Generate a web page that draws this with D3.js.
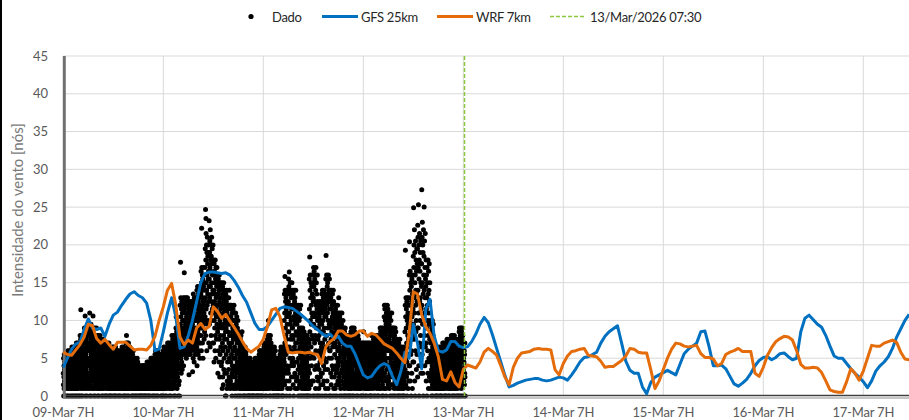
<!DOCTYPE html>
<html><head><meta charset="utf-8">
<script src="https://cdn.jsdelivr.net/npm/d3@7"></script>
<style>
body{margin:0;background:#fff}
svg{display:block}
text{font-family:Lato,"Open Sans",sans-serif}
</style>
</head><body>
<svg id="chart" width="909" height="420"></svg>
<script>
// ---------- DATA ----------
const obsStart = "2026-03-09T07:00:00Z";
const obsStepMinutes = 2;
const obsValues = [
3,1.5,5,0,2.5,4,1,5.5,2,3.5,4.5,1,3,5,2,0,4,2.5,1.5,5.5,3.5,1,4.5,2,3,5,0,1.5,4,2.5,
2.5,5,1.5,6,3.5,0,4.5,1,3,5.5,2,4,6,1.5,3.5,5,2.5,0,4.5,1,5.5,3,2,6,4,1.5,3.5,5,2.5,0,
4,2,6.5,1,5,3,5.5,1.5,0,4.5,2.5,6,3.5,1,5,2,6.5,4,3,0,1.5,5.5,2.5,4.5,6,1,3.5,5,2,0,
3,6,1.5,5,7,2.5,4,6.5,1,0,3.5,5.5,2,4.5,7,1,6,3,5,2.5,0,4,6.5,1.5,3.5,5.5,2,4.5,7,0,
5,8,2,6.5,3.5,7.5,11.4,1,4.5,6,0,8,2.5,5.5,3,7,1.5,4,6.5,0,7.5,2,5,3.5,8,1,6,4.5,2.5,7,
7,3,9,5,1.5,8,4,10.6,6,0,2,8.5,5.5,3.5,7.5,1,6.5,9,4.5,2.5,0,8,5,3,7,1.5,9,6,4,2,
6,9.5,2.5,4.5,8,1,7,3,9,5,11,0,2,6.5,8.5,4,1.5,7.5,3.5,9.5,5.5,0,2.5,8,6,4.5,1,7,3,9,
5,8.5,2,6.5,10.6,4,9,1,3,7.5,0,5.5,8,2.5,6,4.5,1.5,9,3.5,7,0,5,8,2,6.5,4,1,7.5,3,9,
7,3.5,5.5,8,1.5,4.5,6.5,2.5,0,7.5,3,5,1,6,4,8,2,0,5.5,3.5,7,1.5,4.5,6.5,2.5,8,3,5,1,6,
2,6,4,7.5,1,5,3,0,6.5,2.5,4.5,7,1.5,5.5,3.5,0,6,2,4,7.5,1,5,3,6.5,2.5,4.5,1.5,7,3.5,0,
4.5,7,1.5,3,6,5,2,0,6.5,3.5,1,5.5,4,2.5,7,0,3,5,1.5,6,4.5,2,6.5,3.5,1,5.5,2.5,4,7,0,
3.5,6,2,4.5,1,5.5,3,0,6.5,1.5,4,2.5,5,0,3.5,6,1,4.5,2,5.5,3,1.5,6.5,4,2.5,0,5,3.5,1,2,
5,2.5,6.5,1.5,4,3,5.5,0,2,6,1,4.5,3.5,0,5,2.5,6.5,1.5,4,3,5.5,2,0,6,1,4.5,3.5,2.5,5,1,
4,1.5,6,3,5,2,0,4.5,1,5.5,2.5,3.5,6,0,1.5,4,3,5,2,1,4.5,2.5,5.5,0,3.5,6,1.5,4,2,3,
2,5.5,3.5,6.5,1,4.5,2.5,6,3,5,1.5,0,4,2,6.5,3.5,1,5.5,2.5,4.5,0,3,6,1.5,5,4,2,3.5,1,0,
5,3,7,1,4.5,8,2,6,3.5,1.5,5.5,7,0,2.5,4,6.5,3,1,5,7,2,4.5,0,6,3.5,1.5,5.5,2.5,4,6.5,
4,1,6,2.5,5,3,5.5,1.5,4.5,2,6,3.5,0,1,4,2.5,5,3,1.5,5.5,0,2,4.5,3.5,6,1,2.5,4,3,0,
2,4.5,1,3.5,5,2.5,1.5,4,3,0,2,5,1,3.5,2.5,4.5,1.5,0,3,4,2,1,5,3.5,2.5,1.5,4.5,0,3,2,
3,1,4,2,3.5,1.5,2.5,0,4,1,3,2,1.5,3.5,0,2.5,1,4,2,3,1.5,0,3.5,2.5,1,2,3,0,1.5,4,
1.5,3.5,2.5,1,4,3,2,0,4,1,3.5,2,1.5,3,0,2.5,4,1,2,3.5,1.5,0,3,2.5,1,4,2,3,1.5,0,
4,2,3,4.5,1,2.5,3.5,1.5,4,0,2,3,4.5,1,2.5,3.5,0,1.5,4,2,3,1,4.5,2.5,0,3.5,1.5,2,4,3,
3,5,1.5,4,2.5,5,1,3.5,2,4.5,0,3,1.5,5,2.5,4,1,3.5,2,4.5,0,3,5,1.5,2.5,4,1,3.5,2,0,
5.5,2,4.5,1,6,3,5,2.5,4,1.5,6,3.5,0,2,5,4.5,1,3,5.5,2.5,4,0,6,1.5,3.5,5,2,4.5,3,1,
4.5,1.5,5.5,3,2,5,1,4,2.5,5.5,3.5,1,0,4.5,2,3,5,1.5,4,2.5,0,3.5,5.5,1,3,4.5,2,5,1.5,0,
6,3,1.5,5,6.5,2.5,4.5,1,5.5,3.5,2,6,4,0,1.5,5,3,6.5,2.5,4.5,1,5.5,3.5,0,2,6,4,1.5,5,3,
4,7,2,5.5,3,6.5,1.5,5,2.5,7,4.5,1,6,3.5,0,5.5,2,4,6.5,3,1.5,7,5,2.5,4.5,0,6,3.5,1,5,
6,1.5,8,3.5,7,4.5,2.5,5.5,7.5,1,6.5,3,5,8,2,4,6,0,7,3.5,5.5,1.5,7.5,4.5,2.5,6.5,0,5,3,8,
5.5,9,2,10.5,4,7,8.5,3,6,1,7.5,4.5,9,2.5,6.5,5,0,8,3.5,9.5,6,1.5,7,4,8.5,2,5.5,0,7.5,9,
6,12,4,9.5,17.7,7,13,5,10.5,3,8,11.5,4.5,12.5,6.5,9,3.5,11,7.5,10,5.5,12,8.5,13,6,10,4,11.5,7,9,
9,16.3,6,11.5,8,13,5.5,10,12.5,7,9.5,12,6.5,11,8.5,13,5,10.5,7.5,12,9,6,11,8,13,7,10,12.5,5.5,9.5,
7,11,6,12,8.5,2.8,11.5,9.5,8,12.5,6.5,10,7.5,11,9,5.5,12,10.5,8,6,11.5,9,7,12.5,10,6.5,8.5,11,7.5,10,
9.5,3.2,12.5,7,10.5,5,13.5,8,11,6.5,12,9,4.5,13,7.5,10,11.5,6,8.5,12,10,5.5,13,8,11.5,7,9,12.5,6,10.5,
12,6.5,14,4,10,13,7.5,14.5,10.5,8.5,12.5,5.5,11,13.5,9,6,14,11.5,7,9.5,13,8,12,5,10.5,14.5,7,11,9,13.5,
13.5,8,16.5,10,6,15,22.2,17,9,14,11.5,16,7,12.5,15.5,10.5,5,13,17,12,14.5,9.5,16,11,7.5,15,12.5,8.5,14,10,
17,10.5,19.5,13,24.7,8,18,23.5,21.5,11.5,15,20,14,6,19,16,12,21,9.5,17.5,13.5,18.5,10,15.5,20,12.5,16.5,7,19,14.5,
23.2,15.5,9.5,19,13,20.5,17,6.5,22,14.5,18,11,16.5,20,8,18.5,12.5,15,21,10,17.5,13.5,19.5,11.5,16,7,18,14,20,12,
18,11,7,16,14,4.5,17.5,10,16.5,12.5,9,15,6,13.5,18,8,15.5,11.5,5,17,13,10.5,16,7.5,14.5,12,17,9.5,15,11,
15,8.5,16,3,12,10.5,15.5,6,13.5,9,14,4.5,11,16,7.5,12.5,2.5,14.5,10,5.5,13,8,15,11.5,6.5,14,9.5,12,4,10.5,
12,4.5,15,9,1,13,7,14.5,2.5,10.5,6,13.5,1.5,11,8,15,3.5,12.5,5,9.5,14,7.5,11.5,3,13,6.5,10,0,8.5,12,
13.5,0,9,5.5,12.5,3,14,7.5,1,11,2,10,13,4.5,8.5,12,6,1.5,11.5,9.5,3.5,13,7,10.5,2.5,14,5,8,12,6.5,
6.5,12,1,9.5,2,11.5,4.5,10.5,8,1.5,12,5.5,7,10,3,0,11,4,8.5,2.5,9,6,11.5,3.5,7.5,1,10,5,8,12,
8.5,11,3.5,6.5,1.5,10,5,0,9,2.5,7.5,11,4,6,1,9.5,3,8,5.5,10.5,2,7,4.5,0,9,6,1.5,10,3.5,8,
7.5,4,8.5,2,6,3,0,7,1,5,8,2.5,6.5,4.5,1.5,7.5,3.5,5.5,0,8,2,6,4,1,7,3,5,8.5,2.5,6.5,
3.5,6,1,5,2.5,0,6.5,4,1.5,5.5,3,2,4.5,0,6,1,3.5,5,2.5,6.5,1.5,4,0,3,5.5,2,4.5,1,6,3,
2.5,5,1.5,3.5,4.5,1,0,3,5,2,4,1,2.5,0,3.5,4.5,1.5,5,2,3,0,4,1,2.5,3.5,5,1.5,0,4.5,2,
4,1,4.5,2,3,1.5,3.5,0,2.5,4,1,2,3,0,4.5,1.5,2.5,3.5,1,0,4,2,3,1.5,2.5,4.5,0,1,3.5,2,
1.5,5,2.5,4,1,4.5,3,2,0,5,1.5,3.5,2.5,4,1,0,3,4.5,2,5,1.5,3.5,0,2.5,4,1,3,4.5,2,0,
5.5,2,3.5,6,1,4.5,3,5,1.5,0,6,2.5,4,1,5.5,3.5,2,0,4.5,6,1.5,3,5,2.5,4,0,5.5,1,3.5,2,
4,7,1.5,5,2.5,6.5,4.5,3,6,1,5.5,3.5,7,0,2,4,6.5,1.5,5,3,7,2.5,4.5,0,6,1,3.5,5.5,2,4,
7.5,3,6,8,1.5,6.5,2.5,10,4.5,7,5,1,8,3.5,0,6,2,7.5,4,5.5,1.5,8,3,6.5,0,4.5,7,2.5,5,3.5,
4.5,6,2,3.5,5.5,1,6.5,2.5,4,0,5,1.5,3,6,2,4.5,0,5.5,1,3.5,6.5,2.5,4,1.5,5,3,0,6,2,4,
3,5,1.5,4,0,5,1,2.5,4.5,2,3.5,0,1.5,4,3,5,1,2.5,0,4.5,2,3.5,1,3,5,0,1.5,4,2.5,2,
2,5.5,3.5,1,6,4.5,2.5,6.5,1.5,5,0,3,4,2,5.5,1,6,3.5,0,4.5,2.5,5,1.5,6.5,3,4,0,2,5,3.5,
10,4.5,13.5,1.5,11,7,15.8,14,6,9,12.5,3,8,13,5.5,11.5,2,0,10.5,7.5,12,4,9.5,14,6.5,1,11,8.5,13.5,3.5,
12.5,3,15.5,8.5,14.5,10.5,2,16.4,6.5,11,0,13.5,5,9.5,15,1,12,7.5,4,14,10,6,13,2.5,11.5,8,15,4.5,9,12,
9,14,5,12,7.5,1.5,13.5,10.5,4,0,11.5,8,14,2.5,6.5,12.5,9.5,3,13,6,10,1,11,7,14,4.5,8.5,12,2,10.5,
11.5,7,9.5,2.5,12,4.5,8,1,10.5,6,11,3.5,0,8.5,5,12,7.5,2,10,4,9,1.5,11.5,6.5,3,10.5,0,8,5.5,12,
5,9,2,7,3.5,6,0,8.5,1,4.5,7.5,2.5,6.5,4,9,1.5,5.5,0,8,3,7,2,6,4.5,8.5,1,5,3.5,0,6.5,
2.5,7.5,4,1,8,3.5,6,1.5,5,0,7,2,4.5,6.5,1,3,8,0,5.5,2.5,7,1.5,4,6,0,3.5,5,2,7.5,1,
7,15.5,11.5,3,18.4,8.5,14,0,16,10,5,13,1.5,15,6.5,12,9.5,4,14.5,11,2,16,8,13.5,5.5,10.5,0,15,7.5,12.5,
13,2,17,9.5,14.5,5,16.5,11,0,7,15.5,3.5,12.5,16,8,10.5,1,14,6,17,12,4,15,9,0,13.5,7.5,11.5,2.5,16,
10,4,12.5,7.5,0,11,2,9,5.5,12,1,8,3.5,10.5,6,11.5,0,9.5,4.5,12.5,7,2.5,10,5,11,1.5,8.5,3,12,6.5,
9.5,13.5,5.5,0,11.5,3,14,7,12.5,1.5,10,6,13,8.5,4,11,2,12,9,14,5,0,10.5,7.5,13.5,3.5,11.5,6.5,1,12.5,
15.5,10.5,18.6,4.5,13,0,16,8,12,2,14.5,6.5,11,15,3.5,9,13.5,1,10,16,7,12.5,5,14,0,9.5,15.5,11.5,6,13,
12.5,6,14,0,9,3,13,10,7.5,1.5,11.5,5,14,8.5,2.5,12,4,10.5,13.5,6.5,0,9.5,11,3.5,14,7,12.5,1,8,10,
11,8,2.5,12,5.5,10.5,0,9,1,7,11.5,4,9.5,6.5,3,12,8.5,1.5,10,5,0,11,7.5,3.5,9,12,6,2,10.5,4.5,
9.5,4,11,13,6.5,1.5,10,8,2.5,5,10.5,0,7,3,9,11,5.5,1,8.5,6,10,2,4.5,9.5,0,7.5,11,3.5,6,8,
7.5,9,3,5.5,10,4,8,1.5,6.5,0,2.5,9,5,7,1,8.5,3.5,6,0,4.5,9,2,7.5,5.5,1.5,8,3,6.5,4,0,
6,1.5,8,4.5,7,2.5,5.5,3.5,7.5,1,6.5,0,4,8,2,5,3,7,1.5,6,0,4.5,7.5,2.5,5.5,1,8,3.5,6.5,0,
5,8.5,3,7,1,9,4,6,2,8,5.5,3.5,7.5,0,9,1.5,6.5,4.5,2.5,8,5,0,7,3,9,6,1,4,8.5,2,
4.5,7.5,2,8,6,1.5,5,3,7,4,0,6.5,2.5,8,3.5,1,5.5,7,2,4.5,6,0,8,3,5,1.5,7.5,4,6.5,2.5,
3.5,6.5,1,7,5,2.5,4,6,1.5,3,5.5,0,2,7,4.5,1,6,3.5,5,2.5,0,6.5,4,1.5,7,3,5.5,2,4.5,0,
7,3,8.5,1.5,5.5,4,6,2,6.5,3.5,5,1,7,2.5,4.5,0,6,3,5.5,1.5,7,4,2,6.5,0,3.5,5,1,4.5,6,
4,7,2,6,1,6.5,3,5,2.5,4.5,7,1.5,3.5,5.5,0,6,2,4,7,1,3,5,2.5,6.5,0,4.5,1.5,5.5,3.5,0,
8,3.5,6,1.5,5,8,2.5,7,4,6.5,1,3,5.5,7.5,2,4.5,0,6,8,3,5,1.5,7,4,2.5,6.5,0,5.5,3.5,7.5,
3,7.5,4.5,8,2,5.5,6.5,1,4,7,2.5,5,0,6,3.5,8,1.5,4.5,7,2,5.5,0,6.5,3,7.5,1,4,6,2.5,5,
6.5,9,2.5,7.5,4,8.5,1,5,3,9,6,2,7,4.5,0,8,3.5,5.5,1.5,9,6.5,2.5,7.5,4,0,8.5,5,3,6,1,
10.5,5.5,12,3,9,11.5,7,2,10,4.5,8,12,1,6.5,9.5,0,11,5,7.5,3.5,10.5,8.5,2.5,12,6,9,4,11.5,1.5,7,
9,11,2,6.5,10,4,9.5,7.5,1,5,10.5,3,8,0,6,11,2.5,8.5,4.5,10,7,1.5,9,5.5,3.5,11,6.5,0,8,4,
6,9,1.5,7,3.5,8.5,5,2.5,6.5,9,0,4,7.5,1,5.5,8,3,6,2,9,4.5,0,7,3.5,8.5,1.5,5,6.5,2.5,4,
4,7,2.5,5.5,1,7.5,3,6,0,4.5,1.5,6.5,2,5,3.5,7,0,4,2.5,6,1,5.5,3,7.5,1.5,4.5,0,6.5,2,3.5,
3,6,1.5,4.5,6.5,2.5,5,1,3.5,5.5,0,2,4,6,1.5,3,5,0,2.5,6.5,4,1,3.5,5.5,2,4.5,0,3,6,1.5,
8.5,3.5,12,19.3,6,10.5,1.5,13,5,9,11.5,2.5,7,12.5,4.5,0,10,6.5,13,3,8,11,1,9.5,5.5,12,7.5,2,10.5,4,
13,16,7,20.4,4,14,10,16.5,2,12,8.5,15,5.5,11,0,9,14.5,6,12.5,3,15.5,10.5,7.5,1,13.5,9.5,16,4.5,11.5,8,
18.5,9.5,24.9,4.5,17,20,13,7.5,22,11,2,19,15,0,16,6,20.5,12,14,8.5,18,10,3.5,16.5,13.5,19.5,5.5,12.5,17.5,9,
19.5,2.5,22.6,14,21,9,17,25.3,11,4,20,15.5,0,18,7,21.5,12.5,5.5,16.5,10,19,13,8,20.5,15,3,17.5,11.5,6.5,14.5,
17.5,27.3,12,21,5.5,23,15,9.5,20,3,19,13.5,0,22,7,16,10.5,18.5,25,14,8,20.5,11,4,17,13,21.5,6.5,15.5,10,
14.5,7,18,2,11.5,16,9,13,0,17,4.5,12,15,6,10,3,18,8,13.5,1,16.5,11,5,14,9.5,17.5,2.5,12.5,7.5,15,
8,4.5,10,2,7,3,9.5,5.5,1,8.5,6,0,3.5,9,2.5,7.5,4,10,1.5,6.5,5,0,8,3,9.5,2,7,4.5,1,6,
5,1.5,6,3,4.5,2,6.5,1,3.5,5.5,0,2.5,4,6,1.5,3,5,0,2,4.5,6.5,1,3.5,5.5,2.5,0,4,1.5,3,5,
2.5,5.5,1,4,6,3.5,6.5,1.5,4.5,2,5,0,3,6,1,4,2.5,5.5,0,3.5,1.5,6.5,4.5,2,5,3,0,1,4,2.5,
6.5,2,7,4.5,1,5.5,3,6,1.5,4,7,2.5,5,0,3.5,6.5,1,4.5,2,5.5,0,3,7,1.5,4,6,2.5,5,3.5,0,
4,6.5,1.5,7.5,3,5,2,6,4.5,1,7,3.5,5.5,0,2.5,6.5,4,1.5,7.5,3,5,0,2,6,4.5,1,3.5,7,2.5,5.5,
7.5,4.5,2,6,8,1,5,3,7,0,5.5,2.5,6.5,4,8,1.5,3.5,7.5,0,5,2,6,4.5,1,7,3,8,2.5,5.5,0,
5.5,2.5,7,4,1,6.5,3,5,7.5,1.5,4.5,6,0,2,7,3.5,5.5,1,4,6.5,2.5,0,5,7.5,3,1.5,6,4.5,2,0,
8.5,3.5,9,5,1.5,7.5,6,2.5,8,4,0,7,3,9,5.5,1,6.5,8.5,4.5,2,7.5,0,9,3.5,6,1.5,8,5,2.5,7,
6.5,3.5,5,7,2,4.5,0,6,1.5,5.5,3,7,2.5,4,0
];

const modelStart = "2026-03-09T07:00:00Z"; // hourly series
const gfsValues = [
3.8,5.0,6.2,6.9,7.1,8.8,10.2,9.0,8.8,9.0,
7.9,9.5,10.7,11.1,12.0,12.8,13.5,13.8,13.3,13.0,
12.3,10.0,6.0,6.2,8.5,11.0,13.0,10.5,6.3,6.5,
8.0,10.0,12.5,15.0,16.2,16.4,16.4,16.3,16.2,16.3,
16.0,15.3,14.4,13.3,12.4,11.0,9.6,8.8,8.8,9.2,
10.0,10.8,11.6,11.8,11.7,11.6,11.2,10.8,10.3,9.8,
9.2,8.8,8.3,7.9,8.2,7.6,7.9,7.0,6.6,6.6,
5.6,4.2,2.8,2.4,2.6,3.4,4.0,4.3,4.0,2.6,
1.5,3.2,5.8,5.0,9.5,7.0,3.6,11.5,12.8,8.0,
6.0,5.8,6.1,7.2,7.2,6.6,6.4,6.5,7.2,8.2,
9.5,10.4,9.7,8.1,6.3,4.5,2.7,1.2,1.4,1.7,
1.9,2.1,2.2,2.3,2.3,2.1,2.0,2.1,2.3,2.5,
2.4,2.1,2.8,3.6,4.5,5.1,5.2,5.5,5.8,7.0,
7.9,8.5,8.9,9.3,7.0,4.6,3.4,3.0,3.0,1.2,
0.3,1.8,2.5,2.8,3.1,3.4,3.1,2.8,4.2,5.6,
6.2,6.6,7.0,8.5,8.6,6.5,4.0,4.0,4.1,3.6,
2.6,1.6,1.3,1.7,2.2,3.0,4.0,4.7,5.1,5.2,
4.8,5.1,5.6,5.7,5.2,4.8,5.0,8.5,10.3,10.7,
10.1,9.5,9.1,8.0,6.6,5.3,5.0,5.0,4.3,3.6,
3.0,2.5,1.9,1.1,2.0,3.3,4.0,4.5,5.2,6.3,
7.8,8.9,10.0,10.8
];
const wrfValues = [
5.8,5.5,5.4,6.1,6.8,7.8,9.5,9.3,7.6,7.0,
7.5,6.8,6.2,7.1,7.1,7.1,6.6,6.1,6.2,6.2,
6.1,6.7,7.9,10.0,11.8,14.0,14.9,12.0,7.8,6.8,
7.4,7.0,9.0,9.6,8.8,9.2,11.8,11.2,10.3,10.8,
9.9,9.1,8.2,7.2,6.3,5.8,6.2,6.6,7.5,9.2,
11.4,11.6,10.5,8.0,5.8,5.7,5.8,5.8,5.7,5.8,
5.6,5.5,4.3,6.5,7.2,7.6,8.6,8.6,8.1,7.9,
8.1,8.6,8.6,7.9,8.3,8.1,7.5,6.9,6.6,6.3,
5.7,5.0,4.4,8.3,13.8,13.5,10.8,9.2,8.3,7.0,
5.2,2.2,2.0,3.2,1.8,1.2,3.5,4.1,3.9,3.7,
4.5,5.8,6.3,5.9,5.4,4.0,2.5,1.5,3.8,5.0,
5.7,5.8,5.9,6.2,6.3,6.2,6.2,6.1,3.5,2.8,
4.3,5.3,5.9,6.0,6.2,6.3,5.4,5.3,5.2,4.6,
3.8,3.9,3.9,4.3,4.7,5.3,6.3,6.2,5.8,5.7,
5.7,3.5,1.0,2.0,3.5,5.0,6.2,7.0,6.9,6.6,
6.5,6.6,6.7,5.6,5.1,5.1,4.9,4.0,4.3,5.5,
5.8,6.0,6.3,5.9,5.9,5.9,3.0,2.6,3.8,5.4,
6.4,7.2,7.6,7.9,7.8,7.4,6.0,4.2,3.7,3.7,
3.8,3.7,3.1,2.0,0.8,0.6,0.5,0.5,1.9,3.6,
3.0,2.1,3.3,5.0,6.7,6.6,6.6,7.0,7.2,7.4,
7.1,5.8,4.9,4.8
];
const yTicks = [0,5,10,15,20,25,30,35,40,45];
const dayTicks = ["2026-03-09T07:00:00Z","2026-03-10T07:00:00Z","2026-03-11T07:00:00Z",
  "2026-03-12T07:00:00Z","2026-03-13T07:00:00Z","2026-03-14T07:00:00Z",
  "2026-03-15T07:00:00Z","2026-03-16T07:00:00Z","2026-03-17T07:00:00Z"];
const markerTime = "2026-03-13T07:30:00Z";
const seriesNames = ["Dado","GFS 25km","WRF 7km","13/Mar/2026 07:30"];
const yTitle = "Intensidade do vento [nós]";

// ---------- CHART ----------
(function(){
const svg = d3.select("#chart");
const colors = {gfs:"#0070C0", wrf:"#E46C0A", marker:"#8DC63F", obs:"#000"};
const pL = 63.3, pT = 56, pB = 396;
const x = d3.scaleUtc()
  .domain([new Date(dayTicks[0]), new Date(dayTicks[dayTicks.length-1])])
  .range([pL, pL + 800]);
const y = d3.scaleLinear().domain([0,45]).range([pB, pT]);

const hour = 3600*1000;
const t0obs = new Date(obsStart).getTime();
const obs = obsValues.map((v,i)=>({t:new Date(t0obs + i*obsStepMinutes*60*1000), v}));
const t0mod = new Date(modelStart).getTime();
const gfs = gfsValues.map((v,i)=>({t:new Date(t0mod + i*hour), v}));
const wrf = wrfValues.map((v,i)=>({t:new Date(t0mod + i*hour), v}));

svg.append("rect").attr("x",0).attr("y",0).attr("width",2).attr("height",420).attr("fill","#000");

svg.append("g").selectAll("line").data(yTicks.slice(1)).join("line")
  .attr("x1",pL).attr("x2",909).attr("y1",d=>y(d)).attr("y2",d=>y(d))
  .attr("stroke","#d9d9d9").attr("stroke-width",1);
svg.append("g").selectAll("line").data(dayTicks.slice(1)).join("line")
  .attr("x1",d=>x(new Date(d))).attr("x2",d=>x(new Date(d)))
  .attr("y1",pT).attr("y2",pB)
  .attr("stroke","#d9d9d9").attr("stroke-width",1);

svg.append("g").selectAll("text").data(yTicks).join("text")
  .attr("x",48).attr("y",d=>y(d)+4.5).attr("text-anchor","end")
  .attr("font-size",13).attr("fill","#595959").text(d=>d);

const fmt = d3.utcFormat("%d-%b");
svg.append("g").selectAll("text").data(dayTicks).join("text")
  .attr("x",d=>x(new Date(d))).attr("y",417).attr("text-anchor","middle")
  .attr("font-size",13).attr("letter-spacing","-0.2").attr("fill","#595959")
  .text(d=>fmt(new Date(d))+" 7H");

svg.append("text").attr("transform","translate(23,210) rotate(-90)")
  .attr("text-anchor","middle").attr("font-size",15).attr("fill","#7a7a7a").text(yTitle);

svg.append("g").selectAll("circle").data(obs).join("circle")
  .attr("cx",d=>x(d.t)).attr("cy",d=>y(d.v)).attr("r",2.5).attr("fill",colors.obs);

svg.append("line").attr("x1",pL).attr("x2",909).attr("y1",pB-0.5).attr("y2",pB-0.5)
  .attr("stroke","#404040").attr("stroke-width",1.5);
svg.append("line").attr("x1",pL).attr("x2",909).attr("y1",pB+2).attr("y2",pB+2)
  .attr("stroke","#8c8c8c").attr("stroke-width",1);
svg.append("line").attr("x1",pL+1).attr("x2",pL+1).attr("y1",pT).attr("y2",pB+2)
  .attr("stroke","#707070").attr("stroke-width",3);

const line = d3.line().x(d=>x(d.t)).y(d=>y(d.v));
svg.append("path").datum(gfs).attr("d",line).attr("fill","none")
  .attr("stroke",colors.gfs).attr("stroke-width",3).attr("stroke-linejoin","round");
svg.append("path").datum(wrf).attr("d",line).attr("fill","none")
  .attr("stroke",colors.wrf).attr("stroke-width",3).attr("stroke-linejoin","round");

const mx = Math.round(x(new Date(markerTime))) - 0.5;
svg.append("line").attr("x1",mx).attr("x2",mx).attr("y1",pT).attr("y2",pB)
  .attr("stroke",colors.marker).attr("stroke-width",1.5).attr("stroke-dasharray","4,2");

const lg = svg.append("g").attr("font-size",13).attr("letter-spacing","-0.3").attr("fill","#262626");
lg.append("circle").attr("cx",251).attr("cy",16.5).attr("r",2.6).attr("fill","#000");
lg.append("text").attr("x",272).attr("y",21.5).text(seriesNames[0]);
lg.append("line").attr("x1",322).attr("x2",358).attr("y1",16.5).attr("y2",16.5)
  .attr("stroke",colors.gfs).attr("stroke-width",3);
lg.append("text").attr("x",361).attr("y",21.5).text(seriesNames[1]);
lg.append("line").attr("x1",437).attr("x2",473).attr("y1",16.5).attr("y2",16.5)
  .attr("stroke",colors.wrf).attr("stroke-width",3);
lg.append("text").attr("x",476).attr("y",21.5).text(seriesNames[2]);
lg.append("line").attr("x1",550).attr("x2",586).attr("y1",16.5).attr("y2",16.5)
  .attr("stroke",colors.marker).attr("stroke-width",1.5).attr("stroke-dasharray","4,2");
lg.append("text").attr("x",590).attr("y",21.5).text(seriesNames[3]);
})();
</script>
</body></html>
